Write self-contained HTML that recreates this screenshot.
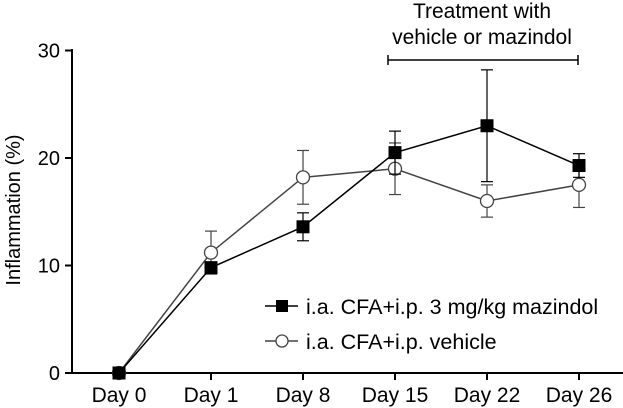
<!DOCTYPE html>
<html><head><meta charset="utf-8"><style>
body{margin:0;background:#fff}
svg{font-family:"Liberation Sans",Arial,sans-serif;display:block}
</style></head><body>
<svg id="chart" width="623" height="408" viewBox="0 0 623 408"></svg>
<script>
const categories=["Day 0","Day 1","Day 8","Day 15","Day 22","Day 26"];
const mazindolValues=[0,9.8,13.6,20.5,23.0,19.3];
const mazindolErrors=[0,0.5,1.3,2.0,5.2,1.1];
const vehicleValues=[0,11.2,18.2,19.0,16.0,17.5];
const vehicleErrors=[0,2.0,2.5,2.4,1.5,2.1];
const yTicks=[0,10,20,30];
const NS="http://www.w3.org/2000/svg";
const svg=document.getElementById('chart');
function el(t,a,p){const e=document.createElementNS(NS,t);for(const k in a)e.setAttribute(k,a[k]);(p||svg).appendChild(e);return e;}
const x0=119,dx=92;
function xs(i){return x0+i*dx;}
function ys(v){return 373-v*10.75;}
const ax=el('g',{});


el('line',{x1:72,y1:49,x2:72,y2:374,stroke:'#000','stroke-width':2},ax);
el('line',{x1:71,y1:373,x2:623,y2:373,stroke:'#000','stroke-width':2},ax);
yTicks.forEach(v=>{
 el('line',{x1:65,y1:ys(v),x2:72,y2:ys(v),stroke:'#000','stroke-width':2},ax);
 const t=el('text',{x:60,y:ys(v)+7,'text-anchor':'end','font-size':20},ax);t.textContent=v;
 
 
});
categories.forEach((c,i)=>{
 el('line',{x1:xs(i),y1:373,x2:xs(i),y2:380,stroke:'#000','stroke-width':2},ax);
 const t=el('text',{x:xs(i),y:402,'text-anchor':'middle','font-size':21},ax);t.textContent=c;
 
 
});
const yt=el('text',{x:0,y:0,'text-anchor':'middle','font-size':20,transform:'translate(20,210) rotate(-90)'});
yt.textContent='Inflammation (%)';


const br=el('g',{});


el('line',{x1:388,y1:60,x2:578,y2:60,stroke:'#000','stroke-width':1.5},br);
el('line',{x1:388,y1:55,x2:388,y2:65,stroke:'#000','stroke-width':1.5},br);
el('line',{x1:578,y1:55,x2:578,y2:65,stroke:'#000','stroke-width':1.5},br);
let t1=el('text',{x:482,y:18,'text-anchor':'middle','font-size':21},br);t1.textContent='Treatment with';
let t2=el('text',{x:482,y:44,'text-anchor':'middle','font-size':21},br);t2.textContent='vehicle or mazindol';
function series(vals,errs,color,filled,name){
 const g=el('g',{});
 
 
 vals.forEach((v,i)=>{if(errs[i]>0){
  const hi=ys(v+errs[i]),lo=ys(v-errs[i]);
  el('line',{x1:xs(i),y1:hi,x2:xs(i),y2:lo,stroke:color,'stroke-width':1.2},g);
  el('line',{x1:xs(i)-6,y1:hi,x2:xs(i)+6,y2:hi,stroke:color,'stroke-width':1.2},g);
  el('line',{x1:xs(i)-6,y1:lo,x2:xs(i)+6,y2:lo,stroke:color,'stroke-width':1.2},g);
 }});
 el('polyline',{points:vals.map((v,i)=>xs(i)+','+ys(v)).join(' '),fill:'none',stroke:color,'stroke-width':1.5},g);
 vals.forEach((v,i)=>{
  let m;
  if(filled)m=el('rect',{x:xs(i)-6.5,y:ys(v)-6.5,width:13,height:13,fill:'#000'},g);
  else m=el('circle',{cx:xs(i),cy:ys(v),r:6.5,fill:'#fff',stroke:'#444','stroke-width':1.3},g);
  
  
 });
}
series(vehicleValues,vehicleErrors,'#444',false,'vehicle-series');
series(mazindolValues,mazindolErrors,'#000',true,'mazindol-series');
const lg=el('g',{});


el('line',{x1:265,y1:306,x2:298,y2:306,stroke:'#000','stroke-width':1.5},lg);
el('rect',{x:276,y:300,width:12,height:12,fill:'#000'},lg);
let l1=el('text',{x:306,y:314,'font-size':21.5},lg);l1.textContent='i.a. CFA+i.p. 3 mg/kg mazindol';
el('line',{x1:265,y1:341,x2:298,y2:341,stroke:'#444','stroke-width':1.5},lg);
el('circle',{cx:282,cy:341,r:6,fill:'#fff',stroke:'#444','stroke-width':1.3},lg);
let l2=el('text',{x:306,y:349,'font-size':21.5},lg);l2.textContent='i.a. CFA+i.p. vehicle';
</script>
</body></html>
